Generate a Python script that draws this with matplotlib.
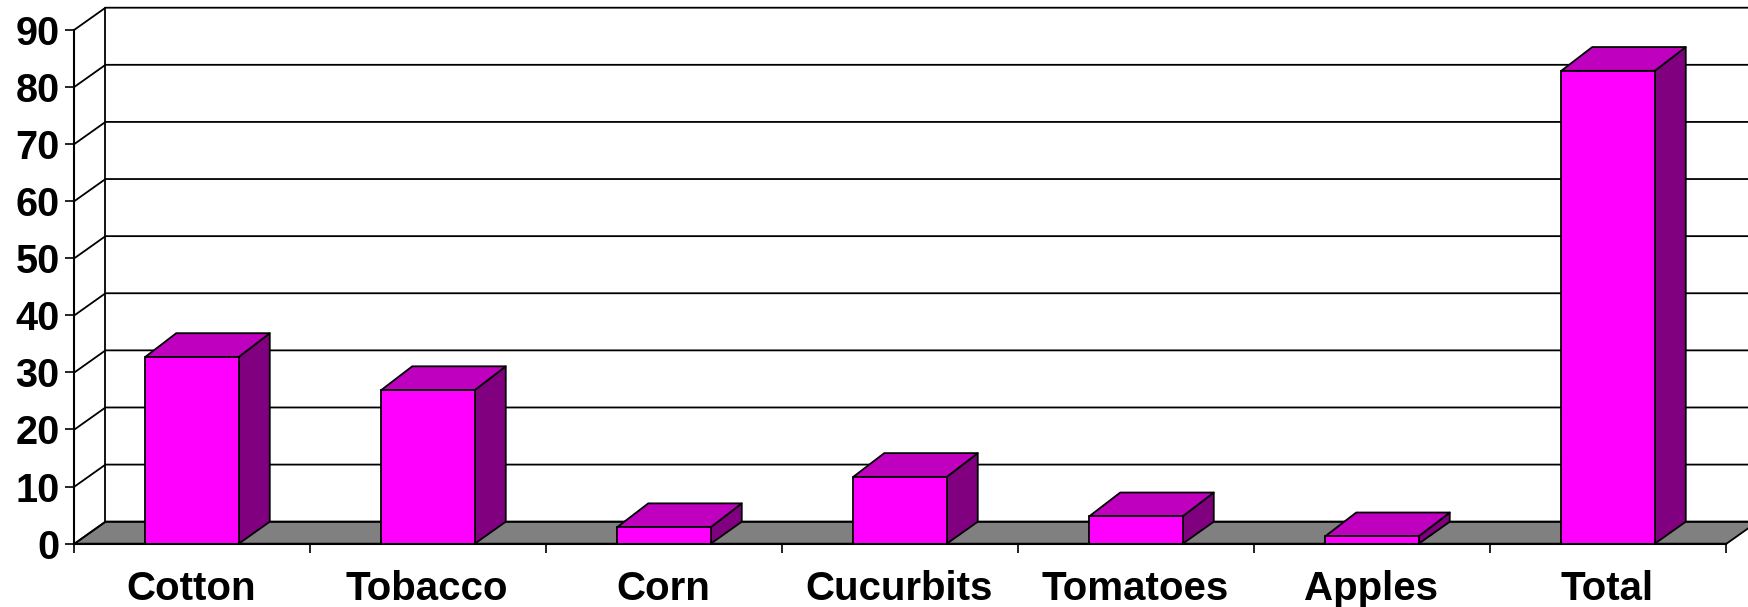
import matplotlib
matplotlib.use("Agg")
import matplotlib.pyplot as plt
from matplotlib.patches import Polygon
from matplotlib.transforms import ScaledTranslation

categories = ["Cotton", "Tobacco", "Corn", "Cucurbits", "Tomatoes", "Apples", "Total"]
values = [32.7, 26.9, 2.9, 11.7, 4.8, 1.3, 82.8]
y_ticks = [0, 10, 20, 30, 40, 50, 60, 70, 80, 90]

W, H = 1749, 607
plt.rcParams['font.family'] = ['Liberation Sans', 'DejaVu Sans']
fig = plt.figure(figsize=(W / 100, H / 100), dpi=100, facecolor='white')
L, R, B, T = 74.5, 1726.5, 543.7, 29.7
ax = fig.add_axes([L / W, 1 - B / H, (R - L) / W, (B - T) / H])
ax.set_xlim(0, len(categories))
ax.set_ylim(0, 90)
ax.patch.set_visible(False)

unit_x = (R - L) / len(categories)
unit_y = (B - T) / 90
dx = 31 / unit_x
dy = 22 / unit_y
bar_w = 93.5 / unit_x
lw = 1.3
n = len(categories)

# floor
ax.add_patch(Polygon([(0, 0), (dx, dy), (n + dx, dy), (n, 0)], closed=True,
                     facecolor='#808080', edgecolor='black', lw=lw, zorder=1, clip_on=False))
# back wall and grid
for v in y_ticks:
    ax.plot([0, dx, n + dx], [v, v + dy, v + dy], color='black', lw=lw, zorder=2,
            clip_on=False, solid_joinstyle='miter')
ax.plot([dx, dx], [dy, 90 + dy], color='black', lw=lw, zorder=2, clip_on=False)

# bars
for i, v in enumerate(values):
    c = i + 0.5 - 0.5 / unit_x
    x0, x1 = c - bar_w / 2, c + bar_w / 2
    top_dy = dy * 1.08
    ax.add_patch(Polygon([(x1, 0), (x1 + dx, dy), (x1 + dx, v + top_dy), (x1, v)], closed=True,
                         facecolor='#800080', edgecolor='black', lw=lw, zorder=3,
                         clip_on=False, joinstyle='round'))
    ax.add_patch(Polygon([(x0, v), (x0 + dx, v + top_dy), (x1 + dx, v + top_dy), (x1, v)], closed=True,
                         facecolor='#BF00BF', edgecolor='black', lw=lw, zorder=3,
                         clip_on=False, joinstyle='round'))
    ax.bar(c, v, width=bar_w, color='#FF00FF', edgecolor='black', lw=lw, zorder=4, clip_on=False)

for s in ('top', 'right'):
    ax.spines[s].set_visible(False)
for s in ('left', 'bottom'):
    ax.spines[s].set_linewidth(1.5)
    ax.spines[s].set_zorder(5)

ax.set_yticks(y_ticks)
ax.set_yticklabels([str(v) for v in y_ticks], fontsize=28.5, fontweight='bold')
ax.tick_params(axis='y', length=6.5, width=1.2, pad=4.2)
ax.set_xticks(range(n + 1))
ax.set_xticklabels([''] * (n + 1))
ax.tick_params(axis='x', which='major', length=6.5, width=1.2)
ax.set_xticks([i + 0.5 for i in range(n)], minor=True)
ax.set_xticklabels(categories, minor=True, fontsize=29, fontweight='bold')
ax.tick_params(axis='x', which='minor', length=0, pad=19)
shift = ScaledTranslation(-1.5 / 100, 0, fig.dpi_scale_trans)
for lab in ax.get_xticklabels(minor=True):
    lab.set_transform(lab.get_transform() + shift)

fig.savefig('out.png', dpi=100, facecolor='white')
